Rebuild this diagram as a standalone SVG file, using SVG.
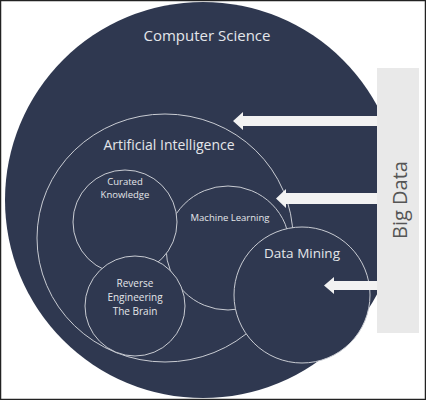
<svg xmlns="http://www.w3.org/2000/svg" width="426" height="400" viewBox="0 0 426 400">
<style>
.c{fill:#2f3850;stroke:#c9ccd3;stroke-width:1}
.t{font-family:"Open Sans","DejaVu Sans",sans-serif;fill:#e4e6ea;text-anchor:middle}
.ar{fill:#f2f2f2}
</style>
<rect x="0" y="0" width="426" height="400" fill="#ffffff"/>
<rect x="0.5" y="0.5" width="425" height="399" fill="none" stroke="#222" stroke-width="1.5"/>
<g id="computer-science">
<circle cx="203" cy="200" r="198" fill="#2f3850"/>
<text class="t" x="207" y="41" font-size="15">Computer Science</text>
</g>
<g id="artificial-intelligence">
<ellipse class="c" cx="165" cy="238" rx="128" ry="124"/>
<text class="t" x="169" y="150" font-size="14">Artificial Intelligence</text>
</g>
<g id="machine-learning">
<circle class="c" cx="228" cy="248" r="62"/>
<text class="t" x="230" y="221" font-size="9.5">Machine Learning</text>
</g>
<g id="curated-knowledge">
<circle class="c" cx="125" cy="222" r="52"/>
<text class="t" x="125" y="185" font-size="9.5">Curated</text>
<text class="t" x="125" y="198" font-size="9.5">Knowledge</text>
</g>
<g id="reverse-engineering">
<circle class="c" cx="135" cy="306" r="50"/>
<text class="t" x="135" y="287" font-size="10">Reverse</text>
<text class="t" x="135" y="301" font-size="10">Engineering</text>
<text class="t" x="135" y="315" font-size="10">The Brain</text>
</g>
<g id="data-mining">
<circle class="c" cx="302" cy="295" r="68"/>
<text class="t" x="302" y="258" font-size="13.5">Data Mining</text>
</g>
<g id="big-data">
<rect x="377" y="68" width="42" height="265" fill="#e9e9e9"/>
<text x="407" y="200" font-size="20" font-family="'Open Sans','DejaVu Sans',sans-serif" fill="#555" text-anchor="middle" transform="rotate(-90 407 200)">Big Data</text>
</g>
<g id="connectors">
<polygon class="ar" points="377,116 243,116 243,112 233,121 243,130 243,126 377,126"/>
<polygon class="ar" points="377,193 286,193 286,189 276,198.5 286,208 286,204 377,204"/>
<polygon class="ar" points="377,281 334,281 334,277 324,285.5 334,294 334,290 377,290"/>
</g>
</svg>
